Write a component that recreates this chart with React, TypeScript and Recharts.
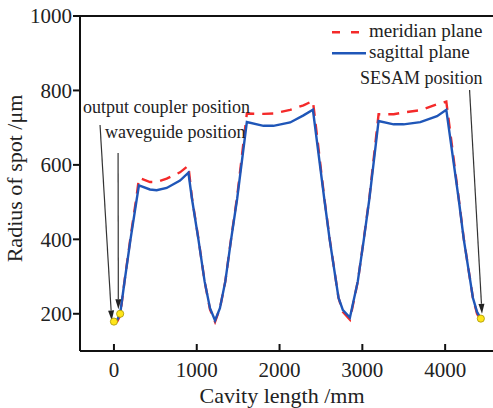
import React from 'react';
import { ComposedChart, Line, Scatter, XAxis, YAxis, ReferenceLine } from 'recharts';

// cavity position (mm) and spot radius (um)
const cavityLength = [0, 40, 75, 130, 200, 276, 302, 435, 516, 637, 798, 899, 942, 1020, 1095, 1160, 1221, 1280, 1345, 1415, 1488, 1605, 1806, 1926, 2128, 2289, 2403, 2540, 2605, 2712, 2765, 2850, 2945, 3018, 3085, 3196, 3378, 3498, 3700, 3902, 4014, 4163, 4225, 4335, 4385, 4431];
const sagittal = [179, 184, 200, 290, 400, 509, 545, 534, 532, 538, 558, 579, 509, 400, 287, 215, 182, 215, 287, 400, 509, 715, 705, 705, 714, 733, 748, 509, 400, 243, 210, 190, 287, 400, 509, 718, 709, 709, 715, 731, 748, 509, 400, 243, 205, 187];
const meridian = [176, 180, 195, 292, 405, 520, 565, 554, 554, 563, 580, 598, 512, 402, 287, 212, 178, 215, 287, 402, 515, 738, 737, 738, 748, 760, 772, 512, 402, 243, 205, 184, 287, 402, 512, 736, 736, 741, 747, 763, 770, 512, 402, 243, 200, 183];

// yellow markers: output coupler, waveguide, SESAM
const markerX = [0, 75, 4431];
const markerY = [179, 200, 187];

const xTicks = [0, 1000, 2000, 3000, 4000];
const yTicks = [200, 400, 600, 800, 1000];

const sagData = cavityLength.map((x, i) => ({ x, y: sagittal[i] }));
const merData = cavityLength.map((x, i) => ({ x, y: meridian[i] }));
const markerData = markerX.map((x, i) => ({ x, y: markerY[i] }));

const FONT = '"Liberation Serif", "Times New Roman", serif';
const RED = '#f42a2a';
const BLUE = '#1f56b8';

const ArrowShape = (props: any) => {
  const { x1, y1, x2, y2 } = props;
  const ang = Math.atan2(y2 - y1, x2 - x1);
  const len = 10;
  const half = 3;
  const bx = x2 - len * Math.cos(ang);
  const by = y2 - len * Math.sin(ang);
  const px = -Math.sin(ang) * half;
  const py = Math.cos(ang) * half;
  return (
    <g>
      <line x1={x1} y1={y1} x2={bx} y2={by} stroke="#333" strokeWidth={1.2} />
      <polygon points={`${x2},${y2} ${bx + px},${by + py} ${bx - px},${by - py}`} fill="#222" />
    </g>
  );
};

const XTick = (props: any) => {
  const { x, y, payload } = props;
  return (
    <g>
      <line x1={x} x2={x} y1={y} y2={y - 7} stroke="#111" strokeWidth={2} />
      <text x={x} y={y + 26} textAnchor="middle" fontSize={21} fontFamily={FONT} fill="#222">
        {payload.value}
      </text>
    </g>
  );
};

const Dot = (props: any) => (
  <circle cx={props.cx} cy={props.cy} r={3.6} fill="#ffe51a" stroke="#a89400" strokeWidth={0.8} />
);

export default function App() {
  return (
    <div style={{ position: 'absolute', left: 0, top: 0, width: 493, height: 408, overflow: 'hidden', background: '#fff' }}>
      <ComposedChart width={500} height={408} margin={{ top: 16, right: 6, left: 0, bottom: 0 }}>
        <XAxis
          dataKey="x"
          type="number"
          domain={[-410, 4590]}
          ticks={xTicks}
          allowDataOverflow
          height={57}
          axisLine={{ stroke: '#111', strokeWidth: 2 }}
          tickLine={false}
          tickSize={0}
          tickMargin={0}
          tick={<XTick />}
          label={{ value: 'Cavity length /mm', position: 'insideBottom', offset: 5, dx: -5, style: { fontSize: 22, fontFamily: FONT, fill: '#222' } }}
        />
        <YAxis
          type="number"
          domain={[100, 1000]}
          ticks={yTicks}
          allowDataOverflow
          width={80}
          axisLine={{ stroke: '#111', strokeWidth: 2 }}
          tickLine={{ stroke: '#111', strokeWidth: 2 }}
          tickSize={7}
          tickMargin={1}
          tick={{ fontSize: 21, fontFamily: FONT, fill: '#222' }}
          label={{ value: 'Radius of spot /μm', angle: -90, position: 'insideLeft', offset: 14, dy: -5, style: { fontSize: 22, fontFamily: FONT, fill: '#222', textAnchor: 'middle' } }}
        />
        <ReferenceLine y={1000} stroke="#111" strokeWidth={2} />
        <Line data={merData} dataKey="y" type="linear" stroke={RED} strokeWidth={2.4} strokeDasharray="11 8" dot={false} isAnimationActive={false} />
        <Line data={sagData} dataKey="y" type="linear" stroke={BLUE} strokeWidth={2.4} dot={false} isAnimationActive={false} />
        <Scatter data={markerData} dataKey="y" shape={<Dot />} isAnimationActive={false} />
        <ReferenceLine segment={[{ x: -168, y: 707 }, { x: -27, y: 182 }]} shape={ArrowShape} />
        <ReferenceLine segment={[{ x: 50, y: 632 }, { x: 53, y: 212 }]} shape={ArrowShape} />
        <ReferenceLine segment={[{ x: 4295, y: 801 }, { x: 4445, y: 200 }]} shape={ArrowShape} />
      </ComposedChart>
      <svg width={493} height={408} style={{ position: 'absolute', left: 0, top: 0, pointerEvents: 'none' }}>
        <line x1={332} x2={366} y1={32.3} y2={32.3} stroke={RED} strokeWidth={2.4} strokeDasharray="8 11" />
        <text x={369} y={36.5} fontSize={19} fontFamily={FONT} fill="#222">meridian plane</text>
        <line x1={332} x2={366} y1={53.3} y2={53.3} stroke={BLUE} strokeWidth={2.4} />
        <text x={369} y={57.5} fontSize={19} fontFamily={FONT} fill="#222">sagittal plane</text>
        <text x={360} y={84} fontSize={18} fontFamily={FONT} fill="#222">SESAM position</text>
        <text x={83} y={113} fontSize={18} fontFamily={FONT} fill="#222">output coupler position</text>
        <text x={105} y={137.5} fontSize={18} fontFamily={FONT} fill="#222">waveguide position</text>
      </svg>
    </div>
  );
}
